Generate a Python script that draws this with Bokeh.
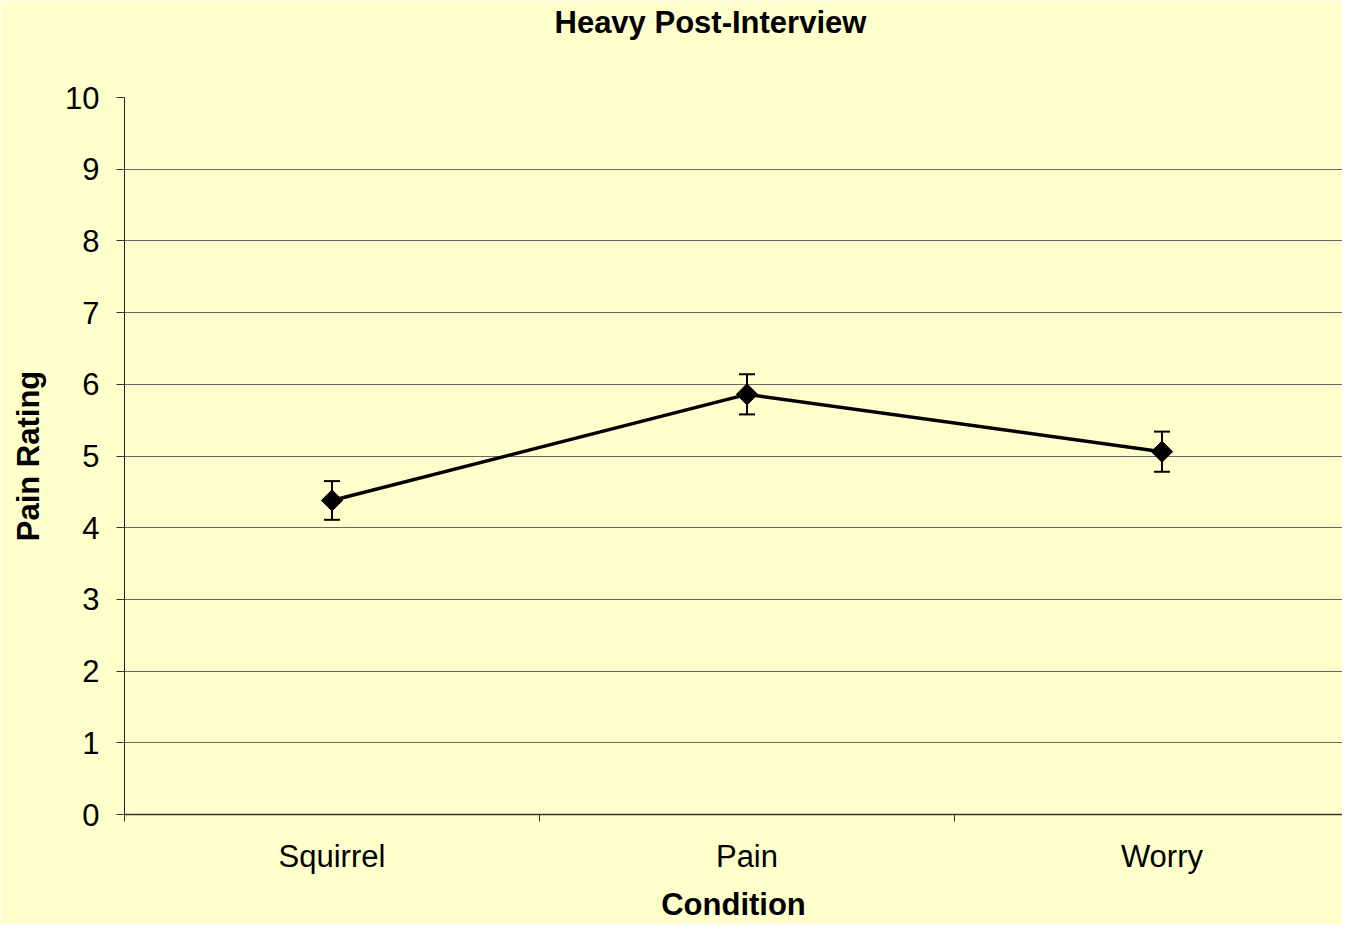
import numpy as np
from bokeh.plotting import figure
from bokeh.models import Range1d, FixedTicker, ColumnDataSource, Whisker, TeeHead, Title
from bokeh.embed import file_html
from bokeh.resources import INLINE

# Data
conditions = ["Squirrel", "Pain", "Worry"]
means = [4.38, 5.86, 5.06]
errors = [0.27, 0.28, 0.28]
y_ticks = list(range(0, 11))
title_text = "Heavy Post-Interview"

BG = "#FFFFCC"
FONT = "Liberation Sans"

xs = [i + 0.5 for i in range(len(conditions))]
src = ColumnDataSource(dict(
    x=xs, y=means,
    upper=[m + e for m, e in zip(means, errors)],
    lower=[m - e for m, e in zip(means, errors)],
))

p = figure(width=1342, height=924, output_backend="svg", toolbar_location=None,
           x_range=Range1d(0, 2.935), y_range=Range1d(0, 10),
           min_border_left=124, min_border_right=0, min_border_top=97, min_border_bottom=110)

p.background_fill_color = BG
p.border_fill_color = BG
p.outline_line_color = None

# spacer between frame and title (pushes the title to the top of the canvas)
spacer = Title(text=" ", text_font_size="1px", standoff=53, text_color=BG)
p.add_layout(spacer, "above")

# Title
p.title.text = title_text
p.title.text_font = FONT
p.title.text_font_size = "31px"
p.title.text_font_style = "bold"
p.title.text_color = "black"
p.title.align = "left"
p.title.offset = 430
p.title.standoff = 4

# Grid
p.xgrid.visible = False
p.ygrid.grid_line_color = "#666666"
p.ygrid.grid_line_width = 1
p.ygrid.ticker = FixedTicker(ticks=y_ticks)

# Y axis
p.yaxis.ticker = FixedTicker(ticks=y_ticks)
p.yaxis.axis_label = "Pain Rating"
p.yaxis.axis_label_text_font = FONT
p.yaxis.axis_label_text_font_size = "31px"
p.yaxis.axis_label_text_font_style = "bold"
p.yaxis.axis_label_text_color = "black"
p.yaxis.axis_label_standoff = 16
p.yaxis.major_label_text_font = FONT
p.yaxis.major_label_text_font_size = "31px"
p.yaxis.major_label_text_color = "black"
p.yaxis.major_label_standoff = 17
p.yaxis.major_tick_in = 0
p.yaxis.major_tick_out = 8
p.yaxis.major_tick_line_color = "#333333"
p.yaxis.minor_tick_line_color = None
p.yaxis.axis_line_color = "#222222"

# X axis
p.xaxis.ticker = FixedTicker(ticks=xs, minor_ticks=list(range(len(conditions) + 1)))
p.xaxis.major_label_overrides = {x: c for x, c in zip(xs, conditions)}
p.xaxis.axis_label = "Condition"
p.xaxis.axis_label_text_font = FONT
p.xaxis.axis_label_text_font_size = "31px"
p.xaxis.axis_label_text_font_style = "bold"
p.xaxis.axis_label_text_color = "black"
p.xaxis.axis_label_standoff = 10
p.xaxis.major_label_text_font = FONT
p.xaxis.major_label_text_font_size = "31px"
p.xaxis.major_label_text_color = "black"
p.xaxis.major_label_standoff = 17
p.xaxis.major_tick_line_color = None
p.xaxis.major_tick_in = 0
p.xaxis.major_tick_out = 0
p.xaxis.minor_tick_in = 0
p.xaxis.minor_tick_out = 7
p.xaxis.minor_tick_line_color = "#333333"
p.xaxis.axis_line_color = "#333333"
p.xaxis.axis_line_width = 1.5

# Line
p.line("x", "y", source=src, line_color="black", line_width=3.5)

# Error bars
w = Whisker(source=src, base="x", upper="upper", lower="lower",
            line_color="black", line_width=2,
            upper_head=TeeHead(size=16, line_color="black", line_width=2),
            lower_head=TeeHead(size=16, line_color="black", line_width=2))
p.add_layout(w)

# Markers
p.scatter("x", "y", source=src, marker="square", angle=np.pi / 4, size=15,
          fill_color="black", line_color="black")

open("out.html", "w").write(file_html(p, INLINE))
